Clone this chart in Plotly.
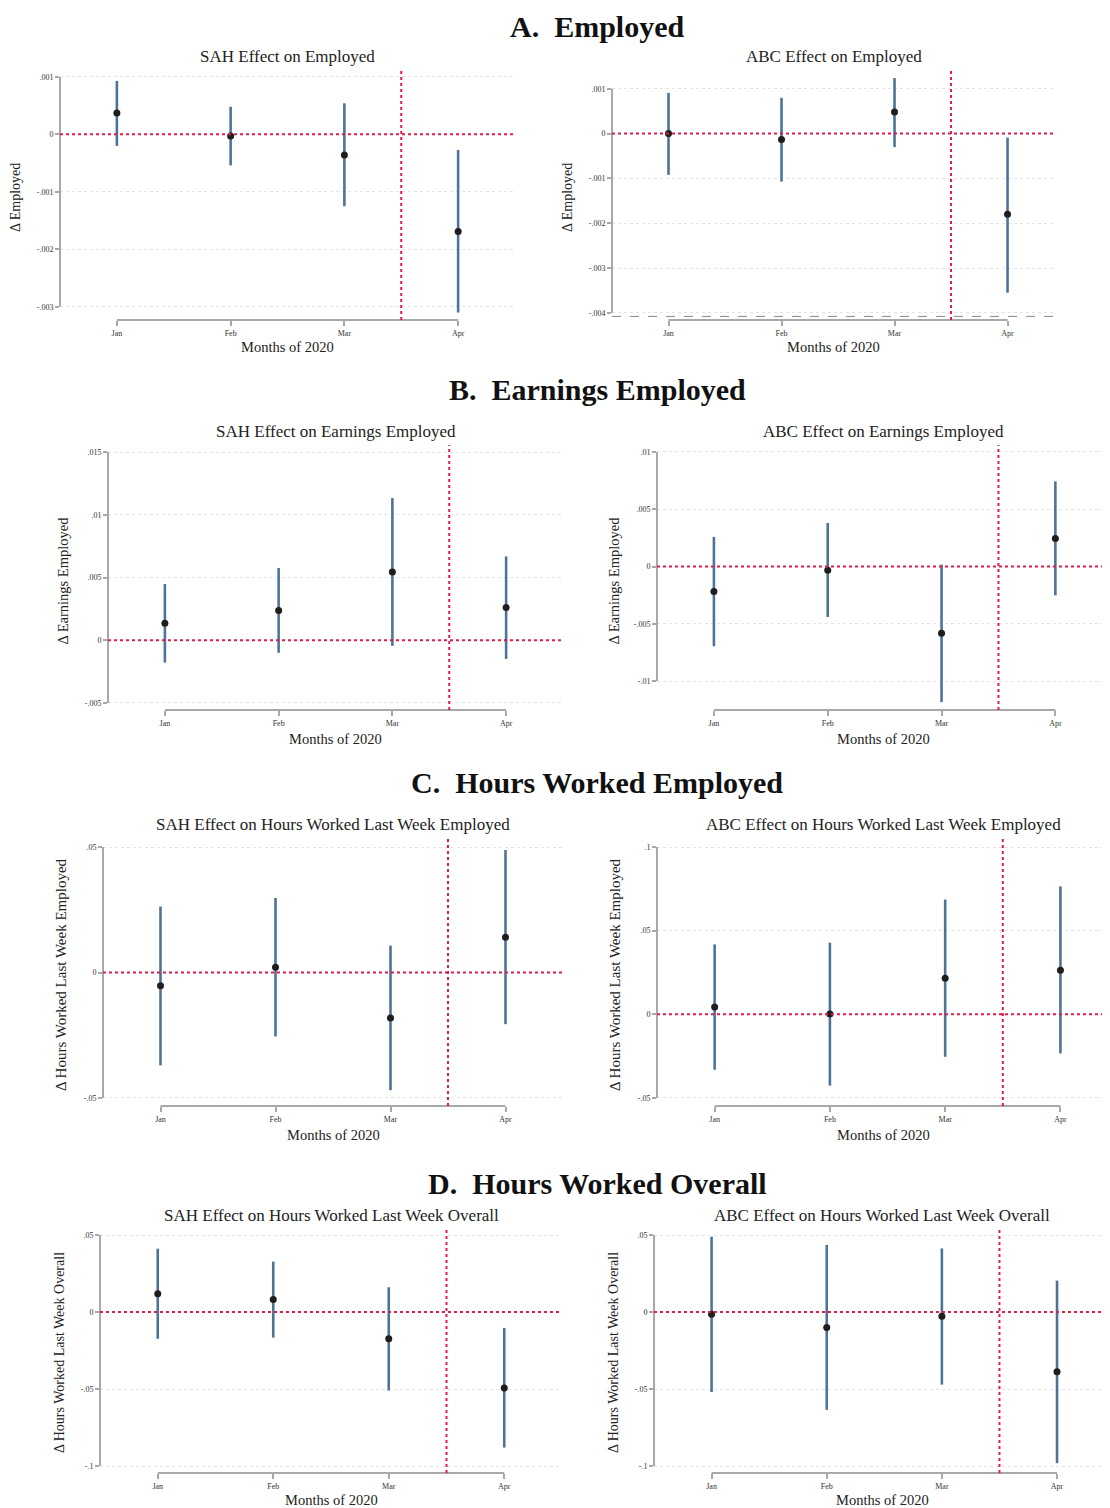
import plotly.graph_objects as go

# page body has an 8px default margin; figure fills the rest of the window
OFF = 8
W, H = 1110 - OFF, 1508 - OFF
months = ["Jan", "Feb", "Mar", "Apr"]
month_pos = [1, 2, 3, 4]
policy_line = 3.5

# ---- data (point estimate, lower CI, upper CI) ----
sah_emp_coef = [0.00037, -0.00003, -0.00036, -0.00169]
sah_emp_lo = [-0.00020, -0.00054, -0.00125, -0.00310]
sah_emp_hi = [0.00093, 0.00048, 0.00054, -0.00027]

abc_emp_coef = [0.00000, -0.00013, 0.00048, -0.00180]
abc_emp_lo = [-0.00092, -0.00107, -0.00030, -0.00355]
abc_emp_hi = [0.00091, 0.00080, 0.00124, -0.00009]

sah_earn_coef = [0.00135, 0.00236, 0.00544, 0.00260]
sah_earn_lo = [-0.00178, -0.00100, -0.00045, -0.00149]
sah_earn_hi = [0.00448, 0.00576, 0.01133, 0.00668]

abc_earn_coef = [-0.00218, -0.00032, -0.00583, 0.00244]
abc_earn_lo = [-0.00696, -0.00441, -0.01184, -0.00252]
abc_earn_hi = [0.00258, 0.00380, 0.00017, 0.00743]

sah_hre_coef = [-0.0053, 0.0021, -0.0181, 0.0140]
sah_hre_lo = [-0.0370, -0.0255, -0.0469, -0.0206]
sah_hre_hi = [0.0263, 0.0297, 0.0107, 0.0488]

abc_hre_coef = [0.0044, 0.0002, 0.0216, 0.0264]
abc_hre_lo = [-0.0331, -0.0426, -0.0254, -0.0234]
abc_hre_hi = [0.0418, 0.0428, 0.0686, 0.0765]

sah_hro_coef = [0.0118, 0.0082, -0.0174, -0.0493]
sah_hro_lo = [-0.0174, -0.0166, -0.0510, -0.0880]
sah_hro_hi = [0.0411, 0.0327, 0.0161, -0.0103]

abc_hro_coef = [-0.0015, -0.0101, -0.0028, -0.0387]
abc_hro_lo = [-0.0519, -0.0635, -0.0471, -0.0981]
abc_hro_hi = [0.0489, 0.0435, 0.0413, 0.0204]

# ---- tick values / labels ----
emp_sah_ticks = [0.001, 0, -0.001, -0.002, -0.003]
emp_sah_ticktext = [".001", "0", "-.001", "-.002", "-.003"]
emp_abc_ticks = [0.001, 0, -0.001, -0.002, -0.003, -0.004]
emp_abc_ticktext = [".001", "0", "-.001", "-.002", "-.003", "-.004"]
earn_sah_ticks = [0.015, 0.01, 0.005, 0, -0.005]
earn_sah_ticktext = [".015", ".01", ".005", "0", "-.005"]
earn_abc_ticks = [0.01, 0.005, 0, -0.005, -0.01]
earn_abc_ticktext = [".01", ".005", "0", "-.005", "-.01"]
hre_sah_ticks = [0.05, 0, -0.05]
hre_sah_ticktext = [".05", "0", "-.05"]
hre_abc_ticks = [0.1, 0.05, 0, -0.05]
hre_abc_ticktext = [".1", ".05", "0", "-.05"]
hro_ticks = [0.05, 0, -0.05, -0.1]
hro_ticktext = [".05", "0", "-.05", "-.1"]

section_titles = ["A.  Employed", "B.  Earnings Employed",
                  "C.  Hours Worked Employed", "D.  Hours Worked Overall"]

panels = [
    dict(title="SAH Effect on Employed", ylab="Δ Employed",
         c=sah_emp_coef, lo=sah_emp_lo, hi=sah_emp_hi,
         tv=emp_sah_ticks, tt=emp_sah_ticktext,
         box=(60, 515, 70, 320), xr=[0.5, 4.5], yr=[-0.00323, 0.00112],
         ty=57, xly=347, ylx=15, yls=14),
    dict(title="ABC Effect on Employed", ylab="Δ Employed",
         c=abc_emp_coef, lo=abc_emp_lo, hi=abc_emp_hi,
         tv=emp_abc_ticks, tt=emp_abc_ticktext,
         box=(612, 1055, 70, 320), xr=[0.5, 4.42], yr=[-0.00416, 0.00142],
         ty=57, xly=347, ylx=567, yls=14, dashed_bottom=-0.00408),
    dict(title="SAH Effect on Earnings Employed", ylab="Δ Earnings Employed",
         c=sah_earn_coef, lo=sah_earn_lo, hi=sah_earn_hi,
         tv=earn_sah_ticks, tt=earn_sah_ticktext,
         box=(108, 563, 445, 710), xr=[0.5, 4.5], yr=[-0.00556, 0.01556],
         ty=432, xly=739, ylx=63, yls=14.5),
    dict(title="ABC Effect on Earnings Employed", ylab="Δ Earnings Employed",
         c=abc_earn_coef, lo=abc_earn_lo, hi=abc_earn_hi,
         tv=earn_abc_ticks, tt=earn_abc_ticktext,
         box=(657, 1110, 445, 710), xr=[0.5, 4.48], yr=[-0.01253, 0.01061],
         ty=432, xly=739, ylx=614, yls=14.5),
    dict(title="SAH Effect on Hours Worked Last Week Employed",
         ylab="Δ Hours Worked Last Week Employed",
         c=sah_hre_coef, lo=sah_hre_lo, hi=sah_hre_hi,
         tv=hre_sah_ticks, tt=hre_sah_ticktext,
         box=(103, 563, 838, 1106), xr=[0.5, 4.5], yr=[-0.0532, 0.0536],
         ty=824, xly=1135, ylx=61, yls=15),
    dict(title="ABC Effect on Hours Worked Last Week Employed",
         ylab="Δ Hours Worked Last Week Employed",
         c=abc_hre_coef, lo=abc_hre_lo, hi=abc_hre_hi,
         tv=hre_abc_ticks, tt=hre_abc_ticktext,
         box=(657, 1110, 838, 1106), xr=[0.5, 4.43], yr=[-0.0548, 0.1054],
         ty=824, xly=1135, ylx=615, yls=15),
    dict(title="SAH Effect on Hours Worked Last Week Overall",
         ylab="Δ Hours Worked Last Week Overall",
         c=sah_hro_coef, lo=sah_hro_lo, hi=sah_hro_hi,
         tv=hro_ticks, tt=hro_ticktext,
         box=(100, 562, 1227, 1473), xr=[0.5, 4.5], yr=[-0.1045, 0.0552],
         ty=1215, xly=1500, ylx=59, yls=14),
    dict(title="ABC Effect on Hours Worked Last Week Overall",
         ylab="Δ Hours Worked Last Week Overall",
         c=abc_hro_coef, lo=abc_hro_lo, hi=abc_hro_hi,
         tv=hro_ticks, tt=hro_ticktext,
         box=(654, 1110, 1227, 1473), xr=[0.5, 4.46], yr=[-0.1045, 0.0552],
         ty=1215, xly=1500, ylx=613, yls=14),
]
section_y = [26, 389, 782, 1183]

SERIF = "Liberation Serif, Times New Roman, serif"
CI_COLOR = "#4e7399"
PT_COLOR = "#1e1e1e"
RED = "#dc1e4a"
AXIS_GRAY = "#a8a8a8"
GRID = "#e4e4e4"

fig = go.Figure()
layout = dict(width=W, height=H, margin=dict(l=0, r=0, t=0, b=0),
              paper_bgcolor="white", plot_bgcolor="white", showlegend=False,
              font=dict(family=SERIF, color="#222"))
shapes, annotations = [], []

def px(x):
    return (x - OFF) / W

def py(y):
    return 1 - (y - OFF) / H

for i, p in enumerate(panels, start=1):
    sfx = "" if i == 1 else str(i)
    xa, ya = "x" + sfx, "y" + sfx
    l, r, t, b = p["box"]
    err_plus = [h - c for h, c in zip(p["hi"], p["c"])]
    err_minus = [c - lo for c, lo in zip(p["c"], p["lo"])]
    fig.add_trace(go.Scatter(
        x=month_pos, y=p["c"], mode="markers", xaxis=xa, yaxis=ya,
        marker=dict(color=PT_COLOR, size=7),
        error_y=dict(type="data", symmetric=False, array=err_plus,
                     arrayminus=err_minus, color=CI_COLOR, thickness=2.6, width=0),
        hoverinfo="skip"))
    layout["xaxis" + sfx] = dict(
        domain=[px(l), min(px(r), 1.0)], anchor=ya, range=p["xr"], tickmode="array",
        tickvals=month_pos, ticktext=months, showgrid=False, zeroline=False,
        showline=False, ticks="outside", ticklen=5, tickcolor=AXIS_GRAY,
        tickwidth=1.5, tickfont=dict(size=8, family=SERIF, color="#333"))
    layout["yaxis" + sfx] = dict(
        domain=[py(b), py(t)], anchor=xa, range=p["yr"], tickmode="array",
        tickvals=p["tv"], ticktext=p["tt"], showgrid=True, gridcolor=GRID,
        griddash="dot", gridwidth=1, zeroline=False, showline=False,
        ticks="outside", ticklen=4, tickcolor=AXIS_GRAY, tickwidth=1.5,
        tickfont=dict(size=8, family=SERIF, color="#333"))
    # Stata-style axis lines spanning tick range only
    shapes.append(dict(type="line", xref=xa + " domain", yref=ya,
                       x0=0, x1=0, y0=min(p["tv"]), y1=max(p["tv"]),
                       line=dict(color=AXIS_GRAY, width=2)))
    shapes.append(dict(type="line", xref=xa, yref=ya + " domain",
                       x0=month_pos[0], x1=month_pos[-1], y0=0, y1=0,
                       line=dict(color=AXIS_GRAY, width=2)))
    if "dashed_bottom" in p:
        shapes.append(dict(type="line", xref=xa + " domain", yref=ya,
                           x0=0, x1=1, y0=p["dashed_bottom"], y1=p["dashed_bottom"],
                           line=dict(color="#888", width=1, dash="dash")))
    # reference lines
    shapes.append(dict(type="line", xref=xa + " domain", yref=ya,
                       x0=0, x1=1, y0=0, y1=0,
                       line=dict(color=RED, width=2, dash="dot")))
    shapes.append(dict(type="line", xref=xa, yref=ya + " domain",
                       x0=policy_line, x1=policy_line, y0=0, y1=1,
                       line=dict(color=RED, width=2, dash="dot")))
    # text
    annotations.append(dict(text=p["title"], xref="paper", yref="paper",
                            x=px((l + r) / 2), y=py(p["ty"]), showarrow=False,
                            xanchor="center", yanchor="middle",
                            font=dict(size=17, family=SERIF, color="#222")))
    annotations.append(dict(text="Months of 2020", xref="paper", yref="paper",
                            x=px((l + r) / 2), y=py(p["xly"]), showarrow=False,
                            xanchor="center", yanchor="middle",
                            font=dict(size=14.5, family=SERIF, color="#222")))
    annotations.append(dict(text=p["ylab"], xref="paper", yref="paper",
                            x=px(p["ylx"]), y=py((t + b) / 2 + 3), showarrow=False,
                            textangle=-90, xanchor="center", yanchor="middle",
                            font=dict(size=p["yls"], family=SERIF, color="#222")))

for s, yy in zip(section_titles, section_y):
    annotations.append(dict(text="<b>" + s + "</b>", xref="paper", yref="paper",
                            x=px(597), y=py(yy), showarrow=False,
                            xanchor="center", yanchor="middle",
                            font=dict(size=30, family=SERIF, color="#111")))

layout["shapes"] = shapes
layout["annotations"] = annotations
fig.update_layout(**layout)
fig.write_html("out.html")
